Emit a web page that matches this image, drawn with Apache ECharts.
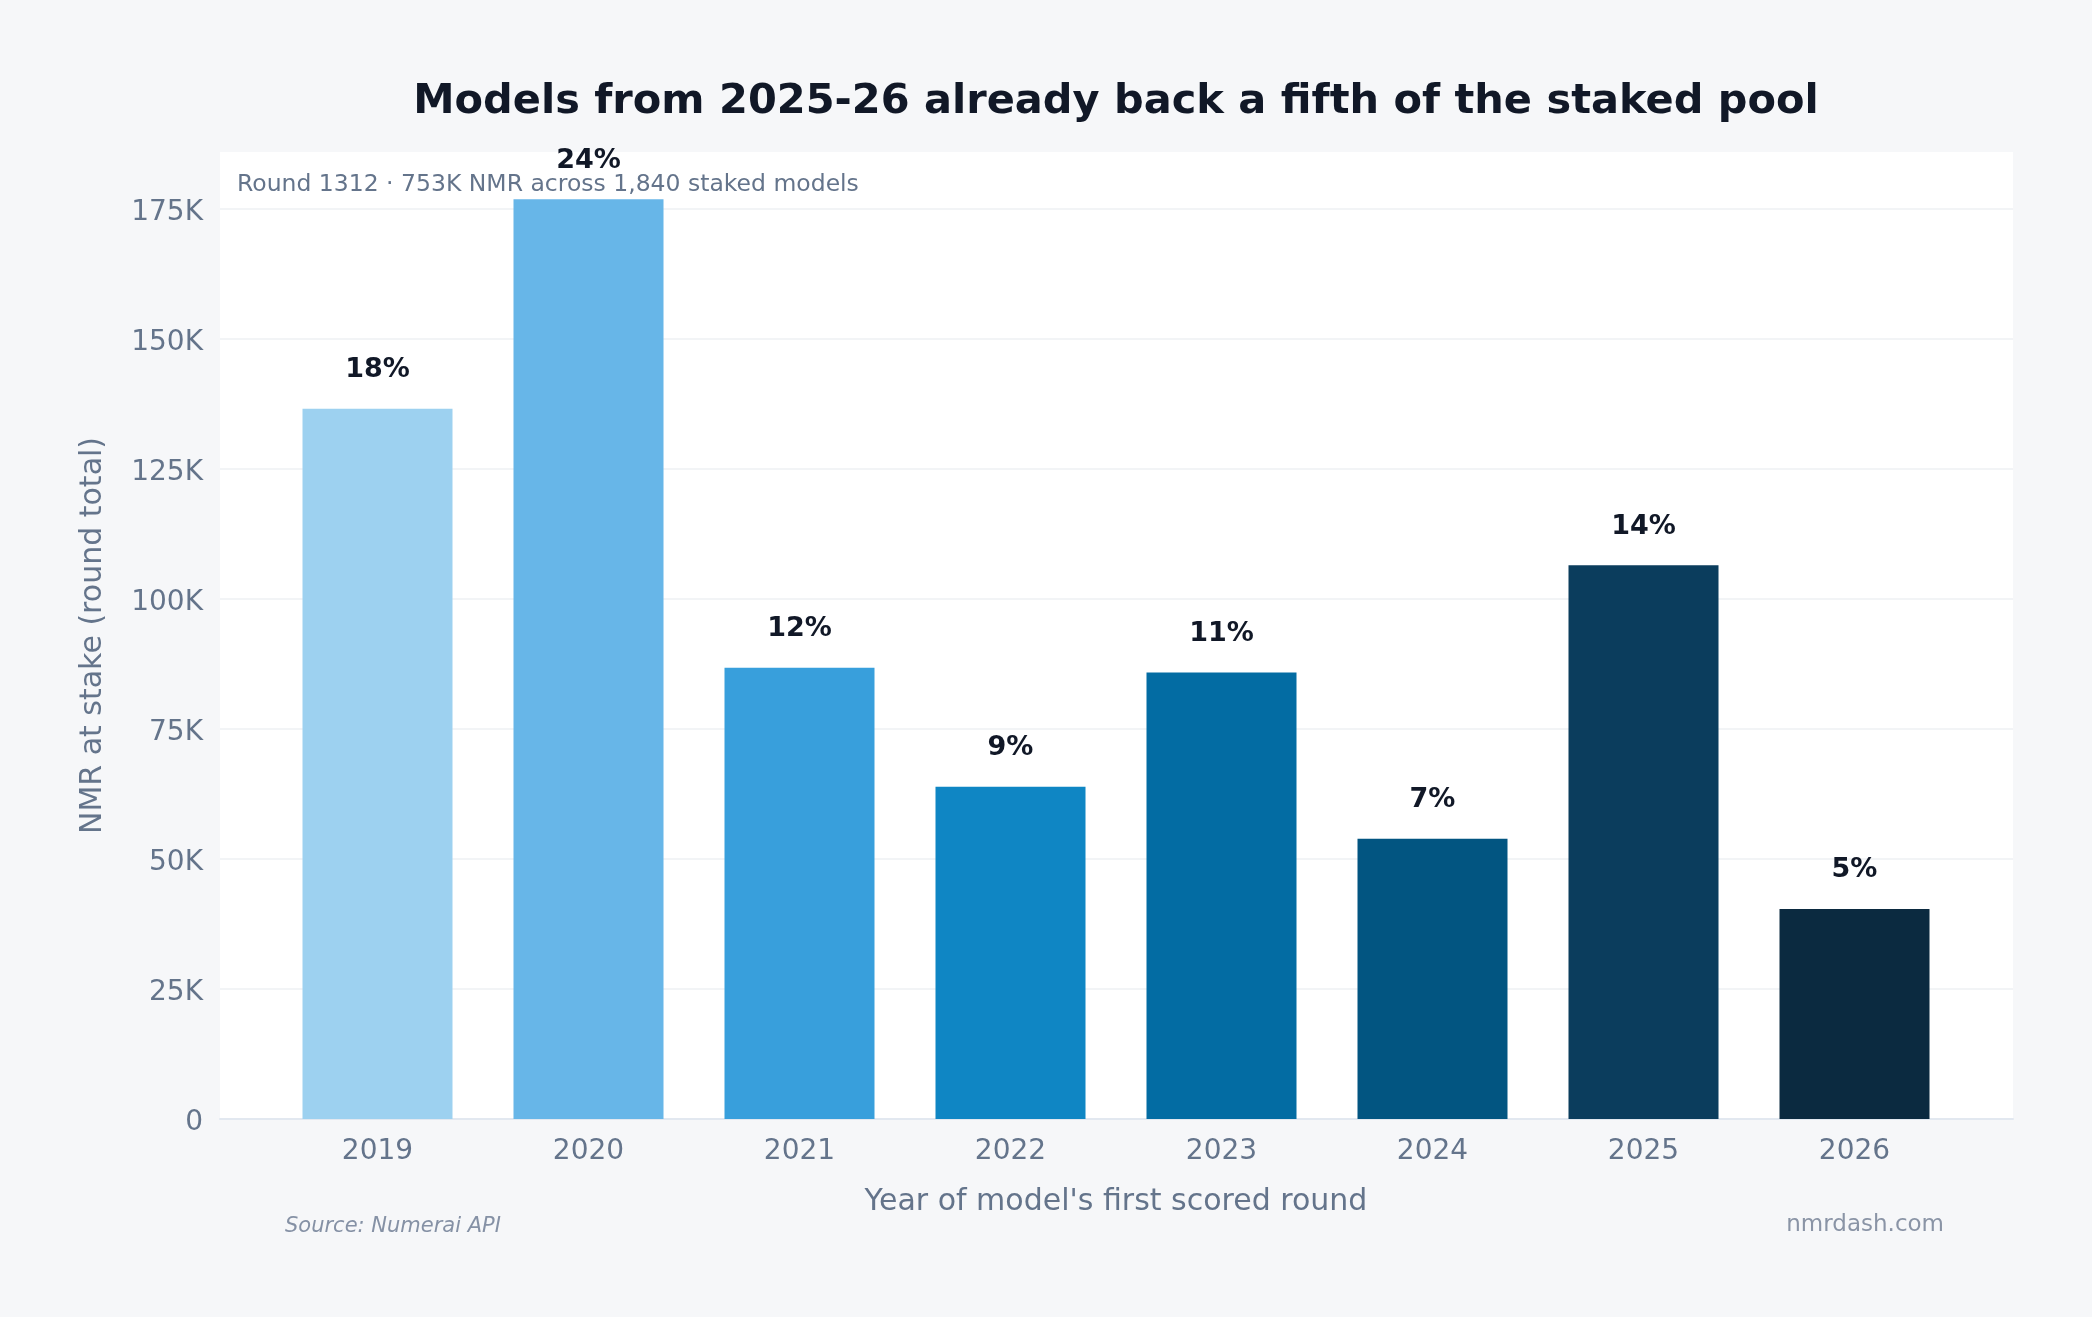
<!DOCTYPE html>
<html>
<head>
<meta charset="utf-8">
<script src="https://cdn.jsdelivr.net/npm/echarts@6/dist/echarts.min.js"></script>
<style>
  html, body { margin: 0; padding: 0; background: #f6f7f9; }
  #main { width: 2092px; height: 1317px; }
</style>
</head>
<body>
<div id="main"></div>
<script>
// data
var years = ['2019', '2020', '2021', '2022', '2023', '2024', '2025', '2026'];
var stakeNmr = [136600, 176900, 86800, 63900, 85900, 53900, 106500, 40400];
var sharePct = [18, 24, 12, 9, 11, 7, 14, 5];
var yTicks = [0, 25000, 50000, 75000, 100000, 125000, 150000, 175000];
var yMax = 186000;

var barColors = ['#9dd1f0', '#67b6e8', '#389fdc', '#0f86c4', '#036ca3', '#025581', '#0b3d5d', '#0b2a40'];

var font = 'DejaVu Sans';
var myChart = echarts.init(document.getElementById('main'));

function kFmt(v) {
    if (v === 0) return '0';
    if (v > yTicks[yTicks.length - 1]) return '';
    return (v / 1000) + 'K';
}

var barData = stakeNmr.map(function (v, i) {
    return { value: v, itemStyle: { color: barColors[i] } };
});

option = {
    backgroundColor: '#f6f7f9',
    graphic: [
        // white plot panel
        { type: 'rect', z: -10, shape: { x: 220, y: 152, width: 1793, height: 967 }, style: { fill: '#ffffff' } },
        { type: 'text', x: 1116, y: 102, style: {
            text: 'Models from 2025-26 already back a fifth of the staked pool',
            fontFamily: font, fontSize: 41.5, fontWeight: 'bold', fill: '#111827',
            textAlign: 'center', textVerticalAlign: 'middle' } },
        { type: 'text', x: 237, y: 185, z: 10, style: {
            text: 'Round 1312 · 753K NMR across 1,840 staked models',
            fontFamily: font, fontSize: 23.5, fill: '#64748b',
            textAlign: 'left', textVerticalAlign: 'middle' } },
        { type: 'text', x: 285, y: 1227, style: {
            text: 'Source: Numerai API',
            fontFamily: font, fontSize: 21, fontStyle: 'italic', fill: '#8591a5',
            textAlign: 'left', textVerticalAlign: 'middle' } },
        { type: 'text', x: 1944, y: 1225, style: {
            text: 'nmrdash.com',
            fontFamily: font, fontSize: 23, fill: '#8a94a6',
            textAlign: 'right', textVerticalAlign: 'middle' } }
    ],
    grid: [
        { left: 220, right: 79, top: 152, bottom: 198 },   // full panel: grid lines + y axis
        { left: 272, right: 132, top: 152, bottom: 198 }   // bars
    ],
    xAxis: [
        {
            gridIndex: 0, type: 'value', min: 0, max: 1,
            axisLine: { show: true, lineStyle: { color: '#e2e8f0', width: 2 } },
            axisTick: { show: false }, axisLabel: { show: false }, splitLine: { show: false }
        },
        {
            gridIndex: 1, type: 'category', data: years,
            axisLine: { show: false }, axisTick: { show: false },
            axisLabel: { fontFamily: font, fontSize: 28, color: '#64748b', margin: 19 },
            name: "Year of model's first scored round",
            nameLocation: 'middle', nameGap: 68,
            nameTextStyle: { fontFamily: font, fontSize: 30, color: '#64748b' }
        }
    ],
    yAxis: [
        {
            gridIndex: 0, type: 'value', min: 0, max: yMax, interval: 25000,
            axisLine: { show: false }, axisTick: { show: false },
            axisLabel: { fontFamily: font, fontSize: 28, color: '#64748b', margin: 17,
                verticalAlign: 'top', lineHeight: 8,
                showMaxLabel: false, formatter: kFmt },
            splitLine: { show: true, showMaxLine: false, lineStyle: { color: '#eef0f3', width: 1.5 } },
            name: 'NMR at stake (round total)',
            nameLocation: 'middle', nameGap: 112,
            nameTextStyle: { fontFamily: font, fontSize: 30, color: '#64748b' }
        },
        {
            gridIndex: 1, type: 'value', min: 0, max: yMax,
            show: false, splitLine: { show: false }
        }
    ],
    series: [
        {
            name: 'NMR at stake',
            type: 'bar',
            xAxisIndex: 1, yAxisIndex: 1,
            barWidth: 150,
            data: barData,
            label: {
                show: true,
                position: 'top',
                distance: 25,
                fontFamily: font, fontSize: 27, fontWeight: 'bold', color: '#111827',
                formatter: function (p) { return sharePct[p.dataIndex] + '%'; }
            }
        }
    ]
};
myChart.setOption(option);
</script>
</body>
</html>
